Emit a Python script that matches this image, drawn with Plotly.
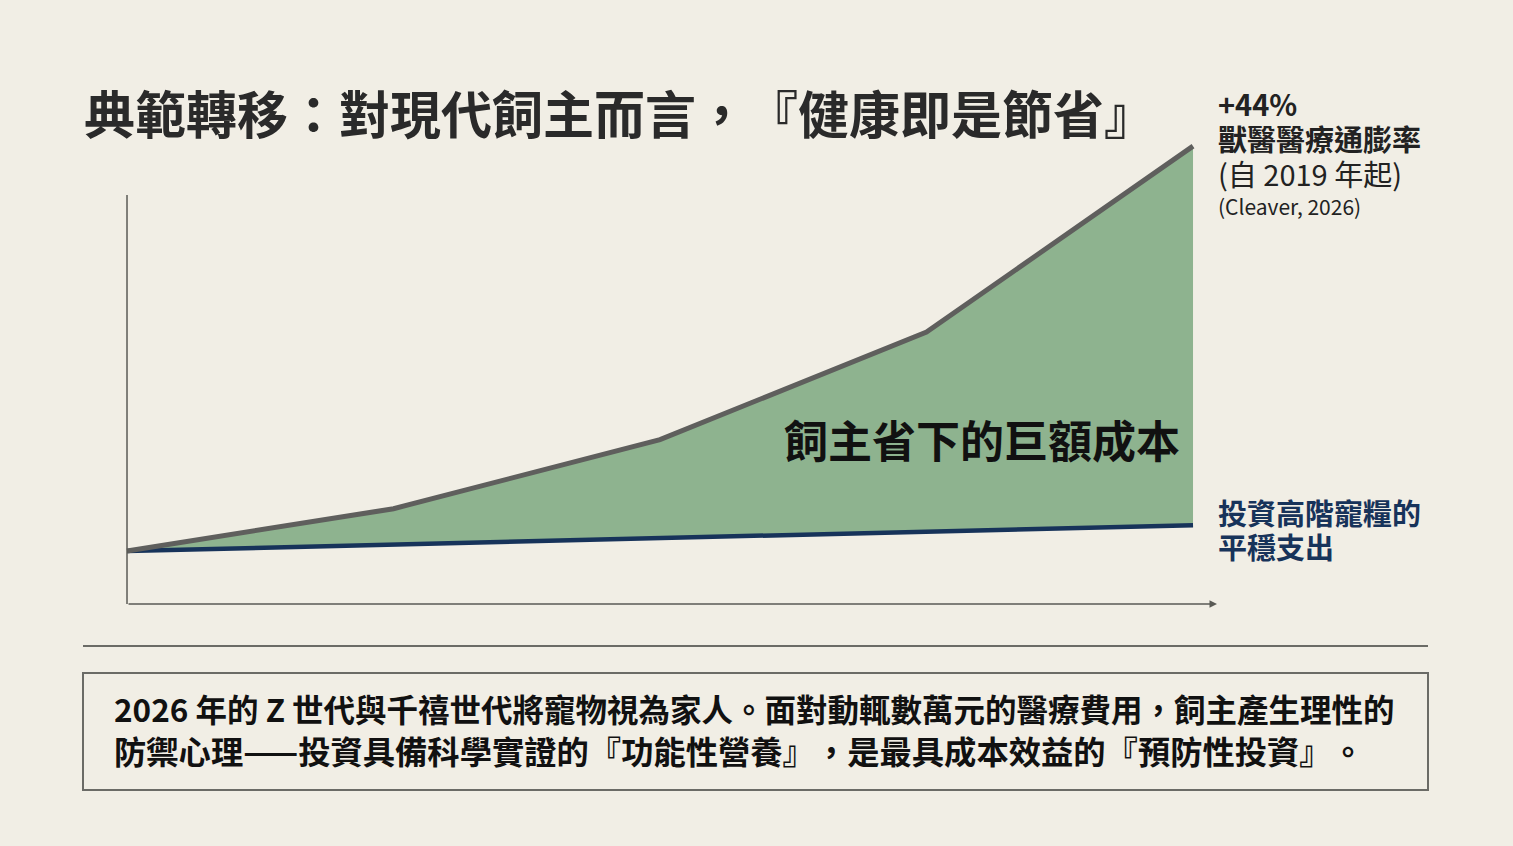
import plotly.graph_objects as go

# 資料：以 2019 年為基準 (=100) 的費用指數
periods = [0, 1, 2, 3, 4]
vet_inflation = [100, 104.6, 112.1, 123.8, 144]   # 獸醫醫療通膨
premium_food = [100, 100.7, 101.4, 102.1, 102.8]  # 高階寵糧支出

W, H = 1513, 846
M = dict(l=120, r=288, t=140, b=242)
BG = "#F1EEE5"
GREEN = "#8EB38F"
GRAY_LINE = "#5F5F5D"
NAVY = "#17335A"
FONT = "Noto Sans CJK TC"


def px(x, y):
    """畫面像素 → paper 座標"""
    pw = W - M["l"] - M["r"]
    ph = H - M["t"] - M["b"]
    return (x - M["l"]) / pw, (H - M["b"] - y) / ph


def sz(text, size):
    return f"<span style='font-size:{size}px'>{text}</span>"


fig = go.Figure()

fig.add_trace(go.Scatter(
    x=periods, y=premium_food, mode="lines",
    line=dict(color=NAVY, width=4.5), hoverinfo="skip", showlegend=False,
))
fig.add_trace(go.Scatter(
    x=periods, y=vet_inflation, mode="lines", fill="tonexty", fillcolor=GREEN,
    line=dict(color=GRAY_LINE, width=5), hoverinfo="skip", showlegend=False,
))

y_bottom = 94.24
shapes = [
    # y 軸
    dict(type="line", xref="x", yref="y", x0=0, x1=0, y0=y_bottom, y1=138.7,
         line=dict(color="#5a5a55", width=1.5)),
]

# 分隔線 + 文字框
sx0, sy0 = px(83, 646)
sx1, _ = px(1428, 646)
shapes.append(dict(type="line", xref="paper", yref="paper", x0=sx0, x1=sx1, y0=sy0, y1=sy0,
                   line=dict(color="#6b6b66", width=2)))
bx0, by0 = px(83, 790)
bx1, by1 = px(1428, 673)
shapes.append(dict(type="rect", xref="paper", yref="paper", x0=bx0, x1=bx1, y0=by0, y1=by1,
                   line=dict(color="#6b6b66", width=2), fillcolor="rgba(0,0,0,0)"))

annotations = []

# x 軸箭頭
annotations.append(dict(
    x=4.09, y=y_bottom, ax=0, ay=y_bottom, xref="x", yref="y", axref="x", ayref="y",
    showarrow=True, arrowhead=2, arrowsize=1, arrowwidth=1.5, arrowcolor="#5a5a55", text="",
))


def label(x, y, text, size, color="#222222", bold=False, xanchor="left"):
    xp, yp = px(x, y)
    annotations.append(dict(
        x=xp, y=yp, xref="paper", yref="paper", xanchor=xanchor, yanchor="middle",
        text=f"<b>{text}</b>" if bold else text, showarrow=False,
        font=dict(family=FONT, size=size, color=color), align="left",
    ))


label(82, 112, "典範轉移：對現代飼主而言，『健康即是節省』", 51, "#2a2a2a", bold=True)
label(1182, 439, "飼主省下的巨額成本", 44, "#111111", bold=True, xanchor="right")

label(1216, 138,
      "<b>" + sz("+44%", 29) + "<br>" + sz("獸醫醫療通膨率", 29) + "</b><br>" + sz("(自 2019 年起)", 29),
      27)
label(1216, 206, "(Cleaver, 2026)", 21)

label(1216, 529, sz("投資高階寵糧的", 29) + "<br>" + sz("平穩支出", 29), 26, NAVY, bold=True)

label(112, 729,
      sz("2026 年的 Z 世代與千禧世代將寵物視為家人。面對動輒數萬元的醫療費用，飼主產生理性的", 31.5)
      + "<br>" + sz("防禦心理——投資具備科學實證的『功能性營養』，是最具成本效益的『預防性投資』。", 32.3),
      32.3, "#111111", bold=True)

fig.update_layout(
    width=W, height=H,
    margin=M,
    paper_bgcolor=BG, plot_bgcolor=BG,
    xaxis=dict(range=[-0.0263, 4.12], visible=False, fixedrange=True),
    yaxis=dict(range=[y_bottom, 144.67], visible=False, fixedrange=True),
    shapes=shapes,
    annotations=annotations,
    showlegend=False,
)

# 頁面邊距歸零，並讓全形標點保持全寬
js = (
    "document.body.style.margin='0';"
    "document.querySelectorAll('.annotation-text').forEach(function(t){"
    "t.style.textSpacingTrim='space-all';});"
)
fig.write_html("out.html", post_script=js, config={"displayModeBar": False})
